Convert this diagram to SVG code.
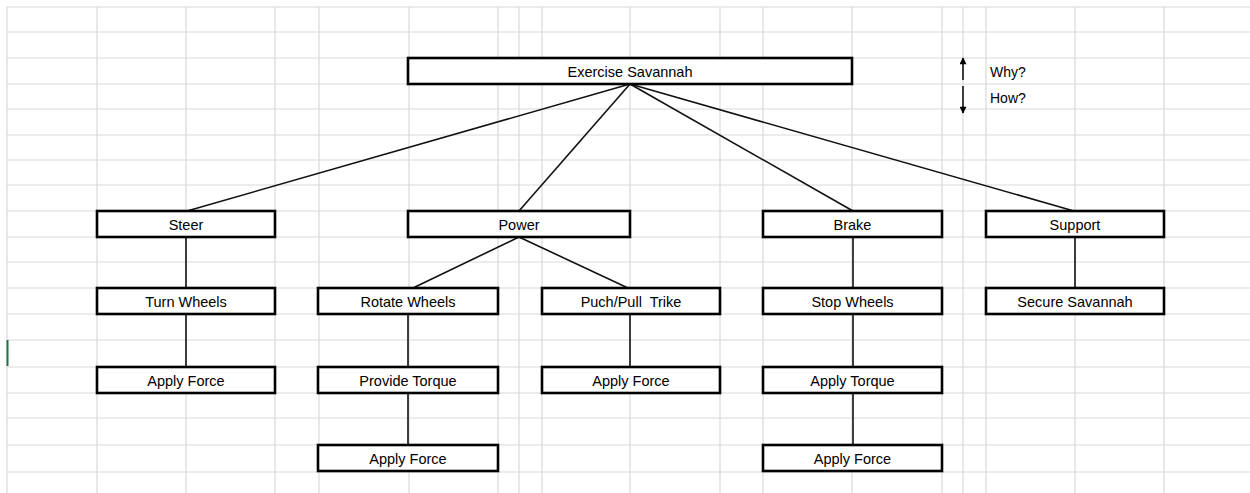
<svg xmlns="http://www.w3.org/2000/svg" width="1250" height="493" viewBox="0 0 1250 493">
<defs>
<style>
.grid line{stroke:#d9d9d9;stroke-width:1.2}
.border{stroke:#c4c4c4;stroke-width:1.5}
.box{fill:#ffffff;stroke:#000;stroke-width:2.6}
.lbl{font-family:"Liberation Sans",Arial,sans-serif;font-size:14.5px;fill:#000;text-anchor:middle;white-space:pre}
.side{font-family:"Liberation Sans",Arial,sans-serif;font-size:14px;fill:#000}
.conn line{stroke:#111;stroke-width:1.6}
</style>
<marker id="ah" viewBox="0 0 10 10" refX="9" refY="5" markerWidth="8" markerHeight="7" markerUnits="userSpaceOnUse" orient="auto">
<path d="M0,0 L10,5 L0,10 z" fill="#000"/>
</marker>
</defs>
<rect x="0" y="0" width="1250" height="493" fill="#ffffff"/>
<g class="grid">
<line x1="97" y1="7" x2="97" y2="493"/>
<line x1="186" y1="7" x2="186" y2="493"/>
<line x1="275" y1="7" x2="275" y2="493"/>
<line x1="319" y1="7" x2="319" y2="493"/>
<line x1="409" y1="7" x2="409" y2="493"/>
<line x1="498" y1="7" x2="498" y2="493"/>
<line x1="519" y1="7" x2="519" y2="493"/>
<line x1="542" y1="7" x2="542" y2="493"/>
<line x1="630" y1="7" x2="630" y2="493"/>
<line x1="720" y1="7" x2="720" y2="493"/>
<line x1="763" y1="7" x2="763" y2="493"/>
<line x1="852" y1="7" x2="852" y2="493"/>
<line x1="942" y1="7" x2="942" y2="493"/>
<line x1="963" y1="7" x2="963" y2="493"/>
<line x1="986" y1="7" x2="986" y2="493"/>
<line x1="1075" y1="7" x2="1075" y2="493"/>
<line x1="1164" y1="7" x2="1164" y2="493"/>
<line x1="7" y1="32" x2="1250" y2="32"/>
<line x1="7" y1="58" x2="1250" y2="58"/>
<line x1="7" y1="84" x2="1250" y2="84"/>
<line x1="7" y1="109" x2="1250" y2="109"/>
<line x1="7" y1="135" x2="1250" y2="135"/>
<line x1="7" y1="160" x2="1250" y2="160"/>
<line x1="7" y1="185" x2="1250" y2="185"/>
<line x1="7" y1="211" x2="1250" y2="211"/>
<line x1="7" y1="237" x2="1250" y2="237"/>
<line x1="7" y1="262" x2="1250" y2="262"/>
<line x1="7" y1="288" x2="1250" y2="288"/>
<line x1="7" y1="314" x2="1250" y2="314"/>
<line x1="7" y1="340" x2="1250" y2="340"/>
<line x1="7" y1="367" x2="1250" y2="367"/>
<line x1="7" y1="393" x2="1250" y2="393"/>
<line x1="7" y1="418" x2="1250" y2="418"/>
<line x1="7" y1="445" x2="1250" y2="445"/>
<line x1="7" y1="472" x2="1250" y2="472"/>
<line class="border" x1="7" y1="7" x2="1250" y2="7"/>
<line class="border" x1="7" y1="7" x2="7" y2="493"/>
</g>
<rect x="6.5" y="340" width="2" height="26" fill="#217346"/>
<g class="conn">
<line x1="630" y1="84" x2="187" y2="211"/>
<line x1="630" y1="84" x2="519" y2="211"/>
<line x1="630" y1="84" x2="853" y2="211"/>
<line x1="630" y1="84" x2="1074" y2="211"/>
<line x1="519" y1="237" x2="413" y2="288"/>
<line x1="519" y1="237" x2="628" y2="288"/>
<line x1="186" y1="237" x2="186" y2="288"/>
<line x1="186" y1="314" x2="186" y2="367"/>
<line x1="408" y1="314" x2="408" y2="367"/>
<line x1="408" y1="393" x2="408" y2="445"/>
<line x1="630" y1="314" x2="630" y2="367"/>
<line x1="853" y1="237" x2="853" y2="288"/>
<line x1="853" y1="314" x2="853" y2="367"/>
<line x1="853" y1="393" x2="853" y2="445"/>
<line x1="1075" y1="237" x2="1075" y2="288"/>
<line x1="963" y1="80" x2="963" y2="58" marker-end="url(#ah)"/>
<line x1="963" y1="86" x2="963" y2="113" marker-end="url(#ah)"/>
</g>
<g id="n-exercise"><rect class="box" x="408" y="58" width="444" height="26"/><text class="lbl" x="630" y="77">Exercise Savannah</text></g>
<g id="n-steer"><rect class="box" x="97" y="211" width="178" height="26"/><text class="lbl" x="186" y="230">Steer</text></g>
<g id="n-power"><rect class="box" x="408" y="211" width="222" height="26"/><text class="lbl" x="519" y="230">Power</text></g>
<g id="n-brake"><rect class="box" x="763" y="211" width="179" height="26"/><text class="lbl" x="852.5" y="230">Brake</text></g>
<g id="n-support"><rect class="box" x="986" y="211" width="178" height="26"/><text class="lbl" x="1075" y="230">Support</text></g>
<g id="n-turn"><rect class="box" x="97" y="288" width="178" height="26"/><text class="lbl" x="186" y="307">Turn Wheels</text></g>
<g id="n-rotate"><rect class="box" x="318" y="288" width="180" height="26"/><text class="lbl" x="408" y="307">Rotate Wheels</text></g>
<g id="n-push"><rect class="box" x="542" y="288" width="178" height="26"/><text class="lbl" x="631" y="307">Puch/Pull  Trike</text></g>
<g id="n-stop"><rect class="box" x="763" y="288" width="179" height="26"/><text class="lbl" x="852.5" y="307">Stop Wheels</text></g>
<g id="n-secure"><rect class="box" x="986" y="288" width="178" height="26"/><text class="lbl" x="1075" y="307">Secure Savannah</text></g>
<g id="n-force1"><rect class="box" x="97" y="367" width="178" height="26"/><text class="lbl" x="186" y="386">Apply Force</text></g>
<g id="n-torque1"><rect class="box" x="318" y="367" width="180" height="26"/><text class="lbl" x="408" y="386">Provide Torque</text></g>
<g id="n-force2"><rect class="box" x="542" y="367" width="178" height="26"/><text class="lbl" x="631" y="386">Apply Force</text></g>
<g id="n-torque2"><rect class="box" x="763" y="367" width="179" height="26"/><text class="lbl" x="852.5" y="386">Apply Torque</text></g>
<g id="n-force3"><rect class="box" x="318" y="445" width="180" height="26"/><text class="lbl" x="408" y="464">Apply Force</text></g>
<g id="n-force4"><rect class="box" x="763" y="445" width="179" height="26"/><text class="lbl" x="852.5" y="464">Apply Force</text></g>
<text class="side" x="990" y="77">Why?</text>
<text class="side" x="990" y="103">How?</text>
</svg>
